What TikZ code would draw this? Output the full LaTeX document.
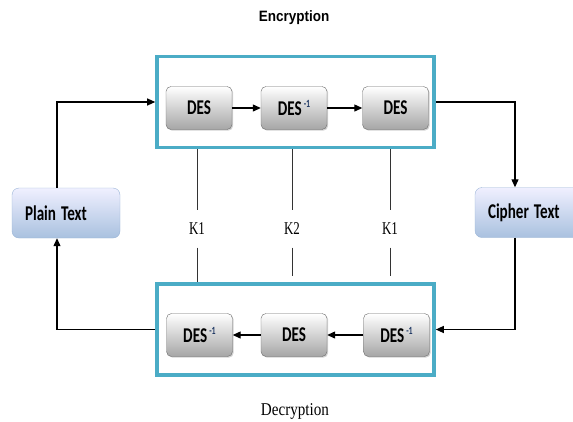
\documentclass[tikz,border=0pt]{standalone}
\usepackage{fontspec}
\setsansfont{Carlito}
\newfontfamily\headfont{Liberation Sans}
\newfontfamily\keyfont{Liberation Serif}
\usepackage{xcolor}
\usepackage{tikz}
\usetikzlibrary{positioning,arrows.meta,shadows}
\definecolor{framecyan}{HTML}{4BACC6}
\definecolor{boxblue}{HTML}{A9C1DF}
\definecolor{lineblue}{HTML}{9AB4D6}
\definecolor{supblue}{HTML}{1F3864}
\newcommand{\narrow}[2][0.72]{\scalebox{#1}[1]{#2}}
\newcommand{\inv}{\hspace{3pt}\raisebox{7.5pt}{\fontsize{11}{11}\selectfont\color{supblue}-1}}

\begin{document}
\begin{tikzpicture}[x=1pt, y=-1pt,
    every node/.style={font=\sffamily\bfseries\fontsize{21}{23}\selectfont},
    frame/.style={draw=framecyan, line width=3.6pt, minimum width=277pt, minimum height=91pt},
    desbox/.style={draw=gray!85!black, rounded corners=5pt, top color=white, bottom color=gray!70,
        minimum width=66pt, minimum height=43pt, inner sep=0pt,
        drop shadow={shadow xshift=1.2pt, shadow yshift=-1.2pt, opacity=0.35}},
    textbox/.style={draw=lineblue, rounded corners=7pt, top color=blue!6!white, bottom color=boxblue,
        minimum height=50pt, inner xsep=13pt, text width=82pt, align=left},
    keylbl/.style={font=\keyfont\fontsize{18}{20}\selectfont, minimum height=37pt, inner sep=0pt},
    arr/.style={line width=1.2pt, -{Triangle[length=8pt, width=7pt]}},
    keyline/.style={line width=0.6pt, black!80}]
   \useasboundingbox (0,0) rectangle (573,421);
    % Titles
    \node[font=\headfont\bfseries\fontsize{15}{17}\selectfont] (enctitle) at (294,18) {\narrow[0.9]{Encryption}};
    \node[font=\keyfont\fontsize{18}{20}\selectfont, anchor=base] (dectitle) at (295,415) {\narrow[0.84]{Decryption}};
    % Frames
    \node[frame] (enc) at (295.5,102) {};
    \node[frame] (dec) at (295.5,329.5) {};
    % DES stages, encryption
    \node[desbox] (e1) at (199,108) {\narrow{DES}};
    \node[desbox] (e2) at (294,108) {\narrow{DES\inv}};
    \node[desbox] (e3) at (395.5,108) {\narrow{DES}};
    % DES stages, decryption
    \node[desbox] (d1) at (199.5,335) {\narrow{DES\inv}};
    \node[desbox] (d2) at (294,335) {\narrow{DES}};
    \node[desbox] (d3) at (396.5,335) {\narrow{DES\inv}};
    % Plain and cipher text
    \node[textbox] (plain) at (66,213) {\narrow{Plain Text}};
    \node[textbox] (cipher) at (529,212.5) {\narrow{Cipher Text}};
    % Keys
    \node[keylbl] (k1) at (197,229) {\narrow{K1}};
    \node[keylbl] (k2) at (292,229) {\narrow{K2}};
    \node[keylbl] (k3) at (390,229) {\narrow{K1}};
    \draw[keyline] (enc.south -| k1) -- (k1.north);
    \draw[keyline] (enc.south -| k2) -- (k2.north);
    \draw[keyline] (enc.south -| k3) -- (k3.north);
    \draw[keyline] (k1.south) -- (dec.north -| k1);
    \draw[keyline, shorten >=6pt] (k2.south) -- (dec.north -| k2);
    \draw[keyline, shorten >=6pt] (k3.south) -- (dec.north -| k3);
    % Arrows
    \draw[arr] (e1) -- (e2);
    \draw[arr] (e2) -- (e3);
    \draw[arr] (d3) -- (d2);
    \draw[arr] (d2) -- (d1);
    \draw[arr] ([xshift=-9pt]plain.north) |- (enc.west);
    \draw[arr] (enc.east) -| ([xshift=-14pt]cipher.north);
    \draw[arr] ([xshift=-14pt]cipher.south) |- (dec.east);
    \draw[arr] (dec.west) -| ([xshift=-9pt]plain.south);
\end{tikzpicture}
\end{document}
